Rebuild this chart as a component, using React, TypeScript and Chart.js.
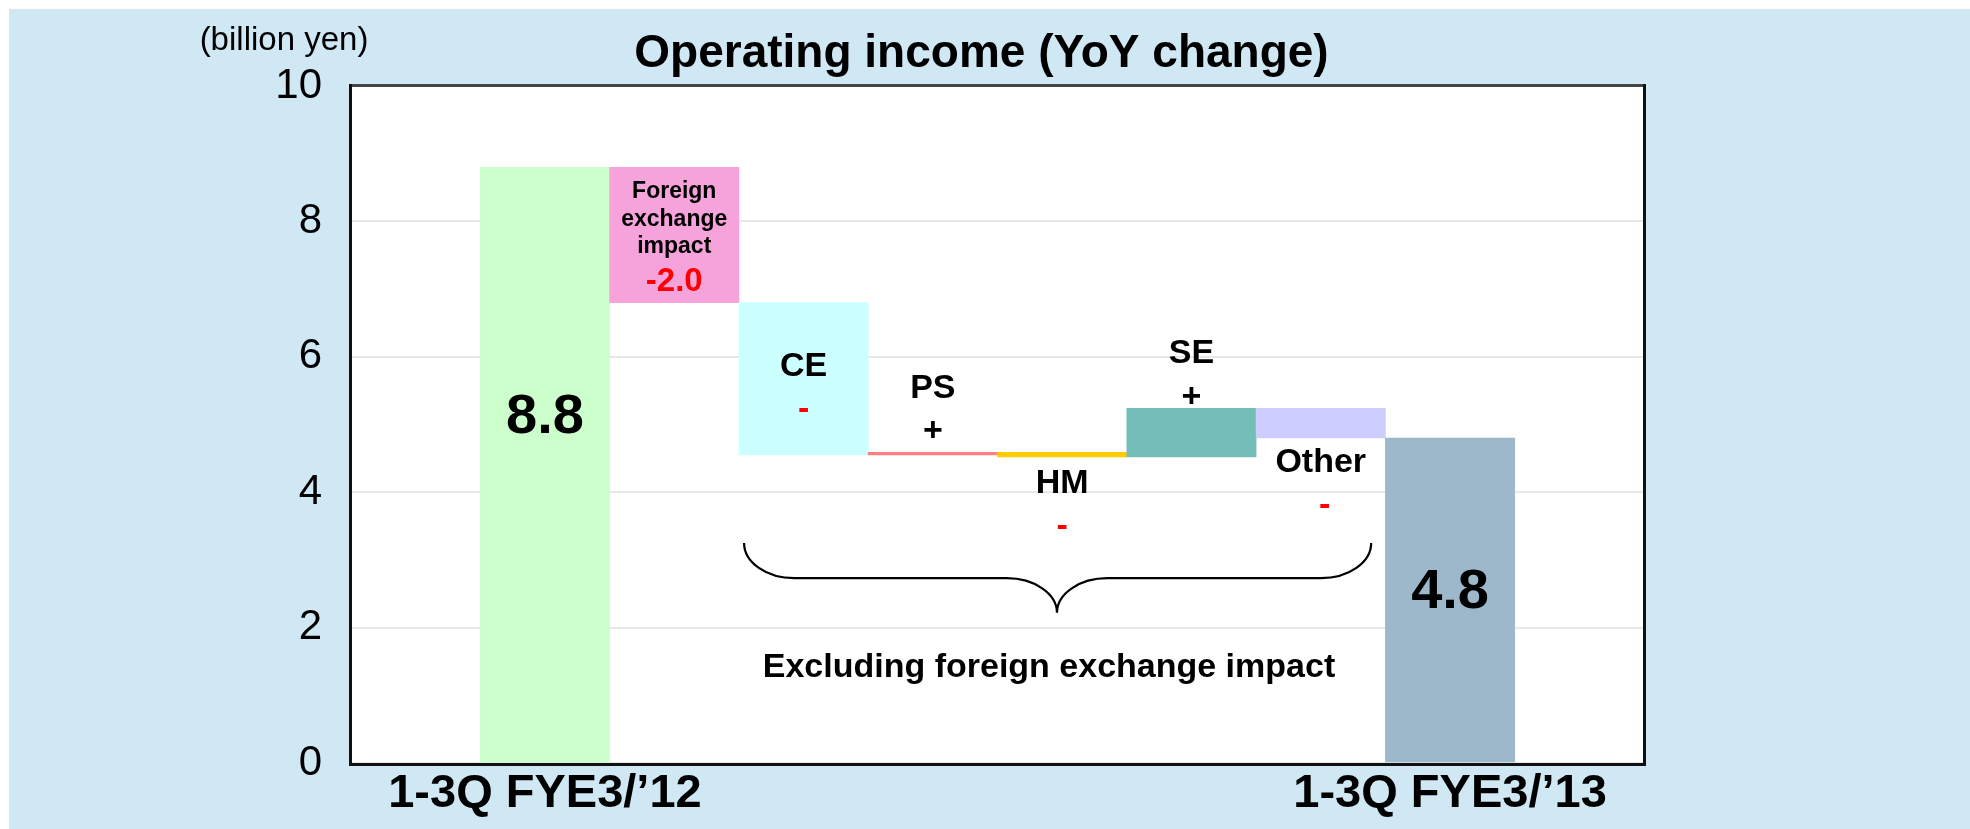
import React, { useEffect, useRef } from 'react';
import { Chart, registerables } from 'chart.js';

Chart.register(...registerables);

const FONT = '"Liberation Sans", Arial, Helvetica, sans-serif';

// ---- data ----
const categories = ['', '1-3Q FYE3/’12', 'Foreign exchange impact', 'CE', 'PS', 'HM', 'SE', 'Other', '1-3Q FYE3/’13', ''];
const tickLabels = ['', '1-3Q FYE3/’12', '', '', '', '', '', '', '1-3Q FYE3/’13', ''];
const startTotal = 8.8;
const endTotal = 4.8;
const changeValues = [-2.0, -2.25, 0.04, -0.07, 0.72, -0.44]; // FX, CE, PS, HM, SE, Other
const yTickValues = [0, 2, 4, 6, 8, 10];
const barColors = ['rgba(0,0,0,0)', '#CCFFCC', '#F5A3DA', '#CCFFFF', '#FF8080', '#FFCC00', '#75BDB7', '#CCCCFF', '#9DB7CB', 'rgba(0,0,0,0)'];

const titleText = 'Operating income (YoY change)';
const unitText = '(billion yen)';
const groupText = 'Excluding foreign exchange impact';

// floating ranges for the waterfall, built from the values above
const ranges: ([number, number] | null)[] = [null, [0, startTotal]];
{
  let level = startTotal;
  for (const c of changeValues) {
    const next = level + c;
    ranges.push([Math.min(level, next), Math.max(level, next)]);
    level = next;
  }
}
ranges.push([0, endTotal]);
ranges.push(null);

// annotation texts (category index, y in axis units)
type Ann = { i: number; y: number; text: string; size: number; color: string; dx?: number };
const annotations: Ann[] = [
  { i: 1, y: 5.1, text: '8.8', size: 56, color: '#000' },
  { i: 8, y: 2.52, text: '4.8', size: 56, color: '#000' },
  { i: 2, y: 8.44, text: 'Foreign', size: 23, color: '#000' },
  { i: 2, y: 8.03, text: 'exchange', size: 23, color: '#000' },
  { i: 2, y: 7.62, text: 'impact', size: 23, color: '#000' },
  { i: 2, y: 7.11, text: '-2.0', size: 33, color: '#FF0000' },
  { i: 3, y: 5.86, text: 'CE', size: 34, color: '#000' },
  { i: 3, y: 5.22, text: '-', size: 34, color: '#FF0000' },
  { i: 4, y: 5.53, text: 'PS', size: 34, color: '#000' },
  { i: 4, y: 4.9, text: '+', size: 34, color: '#000' },
  { i: 5, y: 4.13, text: 'HM', size: 34, color: '#000' },
  { i: 5, y: 3.49, text: '-', size: 34, color: '#FF0000' },
  { i: 6, y: 6.04, text: 'SE', size: 34, color: '#000' },
  { i: 6, y: 5.39, text: '+', size: 34, color: '#000' },
  { i: 7, y: 4.43, text: 'Other', size: 34, color: '#000' },
  { i: 7, y: 3.8, text: '-', size: 34, color: '#FF0000', dx: 0.03 },
];

const waterfallDecor = {
  id: 'waterfallDecor',
  beforeDraw(chart: any) {
    const { ctx, width, height, chartArea: a } = chart;
    ctx.save();
    ctx.fillStyle = '#D0E7F4';
    ctx.fillRect(0, 0, width, height);
    ctx.fillStyle = '#FFFFFF';
    ctx.fillRect(a.left, a.top, a.right - a.left, a.bottom - a.top);
    ctx.restore();
  },
  afterDatasetsDraw(chart: any) {
    const { ctx, chartArea: a } = chart;
    ctx.save();
    ctx.lineWidth = 3;
    ctx.strokeStyle = '#444444';
    ctx.beginPath();
    ctx.moveTo(a.left - 1.5, a.top - 0.5);
    ctx.lineTo(a.right + 1.5, a.top - 0.5);
    ctx.stroke();
    ctx.strokeStyle = '#111111';
    ctx.beginPath();
    ctx.moveTo(a.left - 0.5, a.top - 2);
    ctx.lineTo(a.left - 0.5, a.bottom + 1.5);
    ctx.lineTo(a.right + 0.5, a.bottom + 1.5);
    ctx.lineTo(a.right + 0.5, a.top - 2);
    ctx.stroke();
    ctx.restore();
  },
  afterDraw(chart: any) {
    const { ctx, width, chartArea: a, scales } = chart;
    const y = scales.y;
    const cw = (a.right - a.left) / categories.length;
    const xAt = (i: number) => a.left + (i + 0.5) * cw;
    ctx.save();
    ctx.textAlign = 'center';
    ctx.textBaseline = 'middle';
    // title + unit
    ctx.fillStyle = '#000';
    ctx.font = `bold 46px ${FONT}`;
    ctx.fillText(titleText, width / 2 - 8, 45);
    ctx.font = `33px ${FONT}`;
    ctx.fillText(unitText, 275, 32);
    // bar annotations
    for (const an of annotations) {
      ctx.font = `bold ${an.size}px ${FONT}`;
      ctx.fillStyle = an.color;
      ctx.fillText(an.text, xAt(an.i + (an.dx || 0)), y.getPixelForValue(an.y));
    }
    // brace
    const xL = xAt(2.54), xR = xAt(7.39), xC = xAt(4.96);
    const rx = 0.39 * cw;
    const yTop = y.getPixelForValue(3.25), yMid = y.getPixelForValue(2.73), yPt = y.getPixelForValue(2.22);
    const ry = yMid - yTop, ry2 = yPt - yMid;
    ctx.strokeStyle = '#000';
    ctx.lineWidth = 2.2;
    ctx.beginPath();
    ctx.ellipse(xL + rx, yTop, rx, ry, 0, Math.PI, Math.PI / 2, true);
    ctx.lineTo(xC - rx, yMid);
    ctx.ellipse(xC - rx, yPt, rx, ry2, 0, -Math.PI / 2, 0, false);
    ctx.moveTo(xC, yPt);
    ctx.ellipse(xC + rx, yPt, rx, ry2, 0, Math.PI, 1.5 * Math.PI, false);
    ctx.lineTo(xR - rx, yMid);
    ctx.ellipse(xR - rx, yTop, rx, ry, 0, Math.PI / 2, 0, true);
    ctx.stroke();
    ctx.font = `bold 34px ${FONT}`;
    ctx.fillStyle = '#000';
    ctx.fillText(groupText, xC - 8, y.getPixelForValue(1.41));
    ctx.restore();
  },
};

export default function App() {
  const ref = useRef<HTMLCanvasElement | null>(null);
  useEffect(() => {
    if (!ref.current) return;
    const chart = new Chart(ref.current, {
      type: 'bar',
      data: {
        labels: tickLabels,
        datasets: [
          {
            label: 'Operating income',
            data: ranges as any,
            backgroundColor: barColors,
            borderWidth: 0,
            barPercentage: 1,
            categoryPercentage: 1,
          },
        ],
      },
      options: {
        responsive: false,
        animation: false,
        devicePixelRatio: 1,
        layout: { padding: { left: 242, right: 326, top: 77, bottom: 6 } },
        plugins: { legend: { display: false }, tooltip: { enabled: false }, title: { display: false } },
        scales: {
          x: {
            grid: { display: false, drawTicks: false },
            border: { display: false },
            ticks: {
              autoSkip: false,
              maxRotation: 0,
              minRotation: 0,
              color: '#000',
              padding: 3,
              font: { family: FONT, size: 47, weight: 'bold' },
            },
            afterFit: (s: any) => {
              s.height = 60;
            },
          },
          y: {
            min: 0,
            max: 10,
            afterBuildTicks: (s: any) => {
              s.ticks = yTickValues.map((v) => ({ value: v }));
            },
            ticks: { color: '#000', padding: 29, font: { family: FONT, size: 42 } },
            grid: { color: '#E8E8E8', lineWidth: 2, drawTicks: false },
            border: { display: false },
            afterFit: (s: any) => {
              s.width = 100;
            },
          },
        },
      },
      plugins: [waterfallDecor],
    } as any);
    return () => chart.destroy();
  }, []);
  return (
    <div style={{ position: 'fixed', left: 9, top: 9, width: 1961, height: 820 }}>
      <canvas ref={ref} width={1961} height={820} style={{ display: 'block' }} />
    </div>
  );
}
